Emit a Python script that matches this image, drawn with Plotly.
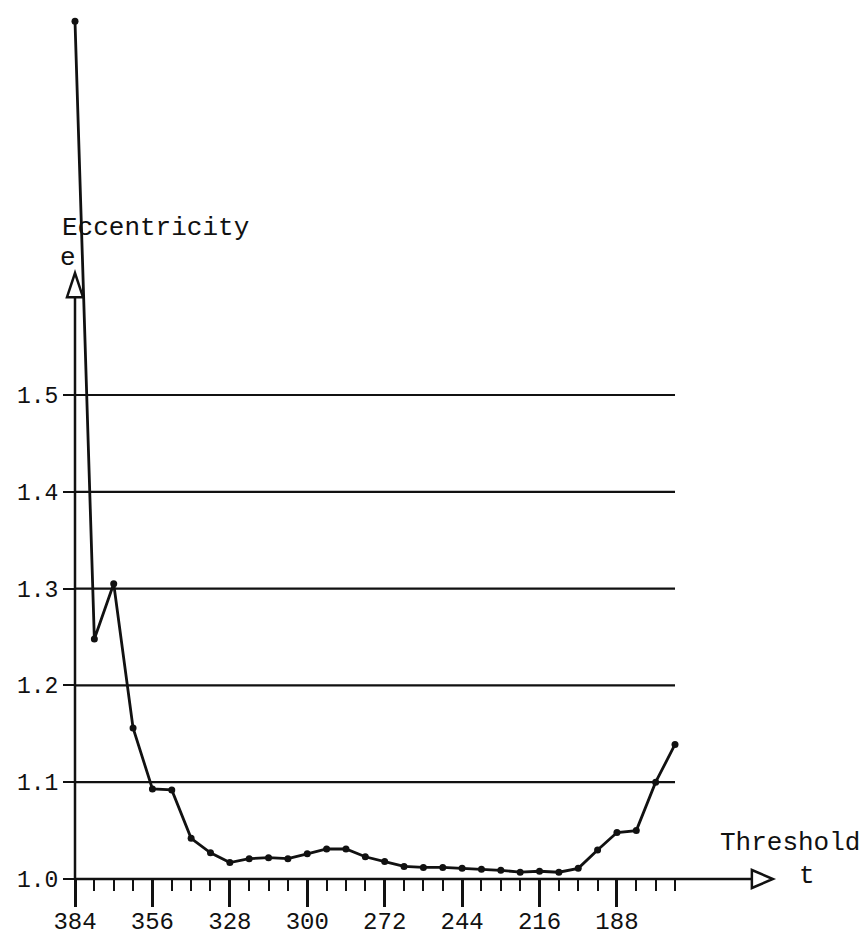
import plotly.graph_objects as go

# ---- data ----
threshold = [384, 377, 370, 363, 356, 349, 342, 335, 328, 321, 314, 307, 300, 293, 286, 279,
             272, 265, 258, 251, 244, 237, 230, 223, 216, 209, 202, 195, 188, 181, 174, 167]
eccentricity = [1.886, 1.248, 1.305, 1.156, 1.093, 1.092, 1.042, 1.027, 1.017, 1.021, 1.022, 1.021,
                1.026, 1.031, 1.031, 1.023, 1.018, 1.013, 1.012, 1.012, 1.011, 1.010, 1.009, 1.007,
                1.008, 1.007, 1.011, 1.030, 1.048, 1.050, 1.100, 1.139]
x_major_ticks = [384, 356, 328, 300, 272, 244, 216, 188]
x_minor_ticks = [384, 377, 370, 363, 356, 349, 342, 335, 328, 321, 314, 307, 300, 293, 286, 279,
                 272, 265, 258, 251, 244, 237, 230, 223, 216, 209, 202, 195, 188, 181, 174, 167]
y_ticks = [1.0, 1.1, 1.2, 1.3, 1.4, 1.5]
y_tick_text = ["1.0", "1.1", "1.2", "1.3", "1.4", "1.5"]
grid_levels = [1.1, 1.2, 1.3, 1.4, 1.5]

W, H = 868, 941
FONT = "Liberation Mono"
INK = "#111111"

# axis geometry (data units)
x_left_px, px_per_t = 75, 2.765
y_base_px, px_per_y = 879, 968.0
x_range = [384 + x_left_px / px_per_t, 384 - (W - x_left_px) / px_per_t]
y_range = [1.0 - (H - y_base_px) / px_per_y, 1.0 + y_base_px / px_per_y]

t_start, t_end = 384, 167
x_arrow_base, x_arrow_tip = 139.2, 131.6
y_arrow_base, y_arrow_tip = 1.601, 1.626

fig = go.Figure()
fig.add_trace(go.Scatter(
    x=threshold, y=eccentricity, mode="lines+markers",
    line=dict(color=INK, width=2.8),
    marker=dict(color=INK, size=7),
    cliponaxis=False, showlegend=False,
))

shapes = []
# horizontal grid lines
for g in grid_levels:
    shapes.append(dict(type="line", xref="x", yref="y", x0=t_start, x1=t_end, y0=g, y1=g,
                       line=dict(color=INK, width=2.2)))
# x axis line + open arrow head
shapes.append(dict(type="line", xref="x", yref="y", x0=t_start, x1=x_arrow_base, y0=1.0, y1=1.0,
                   line=dict(color=INK, width=2.5)))
dy = 9 / px_per_y
shapes.append(dict(type="path", xref="x", yref="y",
                   path=f"M {x_arrow_base} {1.0 - dy} L {x_arrow_tip} 1.0 L {x_arrow_base} {1.0 + dy} Z",
                   line=dict(color=INK, width=2.5), fillcolor="white"))
# y axis line + open arrow head
shapes.append(dict(type="line", xref="x", yref="y", x0=t_start, x1=t_start, y0=1.0, y1=y_arrow_base,
                   line=dict(color=INK, width=2.5)))
dx = 8 / px_per_t
shapes.append(dict(type="path", xref="x", yref="y",
                   path=f"M {t_start + dx} {y_arrow_base} L {t_start} {y_arrow_tip} L {t_start - dx} {y_arrow_base} Z",
                   line=dict(color=INK, width=2.5), fillcolor="white"))

annotations = [
    dict(text="Eccentricity", x=60 / W, y=1 - 228 / H, xref="paper", yref="paper",
         xanchor="left", yanchor="middle", showarrow=False, font=dict(family=FONT, size=26, color=INK)),
    dict(text="e", x=68 / W, y=1 - 258 / H, xref="paper", yref="paper",
         xanchor="center", yanchor="middle", showarrow=False, font=dict(family=FONT, size=26, color=INK)),
    dict(text="Threshold", x=718 / W, y=1 - 843 / H, xref="paper", yref="paper",
         xanchor="left", yanchor="middle", showarrow=False, font=dict(family=FONT, size=26, color=INK)),
    dict(text="t", x=807 / W, y=1 - 876 / H, xref="paper", yref="paper",
         xanchor="center", yanchor="middle", showarrow=False, font=dict(family=FONT, size=26, color=INK)),
]

fig.update_layout(
    template="none",
    width=W, height=H,
    margin=dict(l=0, r=0, t=0, b=0),
    paper_bgcolor="white", plot_bgcolor="white",
    shapes=shapes, annotations=annotations,
    xaxis=dict(
        domain=[0, 1], range=x_range, anchor="free", position=(H - y_base_px) / H,
        showgrid=False, zeroline=False, showline=False, automargin=False,
        tickmode="array", tickvals=x_major_ticks, ticktext=[str(v) for v in x_major_ticks],
        ticks="outside", ticklen=27, tickwidth=2.5, tickcolor=INK,
        ticklabelstandoff=-7,
        tickfont=dict(family=FONT, size=24, color=INK),
        minor=dict(tickvals=x_minor_ticks, ticks="outside", ticklen=11, tickwidth=2, tickcolor=INK),
    ),
    yaxis=dict(
        domain=[0, 1], range=y_range, anchor="free", position=x_left_px / W,
        showgrid=False, zeroline=False, showline=False, automargin=False,
        tickmode="array", tickvals=y_ticks, ticktext=y_tick_text,
        ticks="outside", ticklen=12, tickwidth=2, tickcolor=INK,
        tickfont=dict(family=FONT, size=23, color=INK),
    ),
)

fig.write_html("out.html")
